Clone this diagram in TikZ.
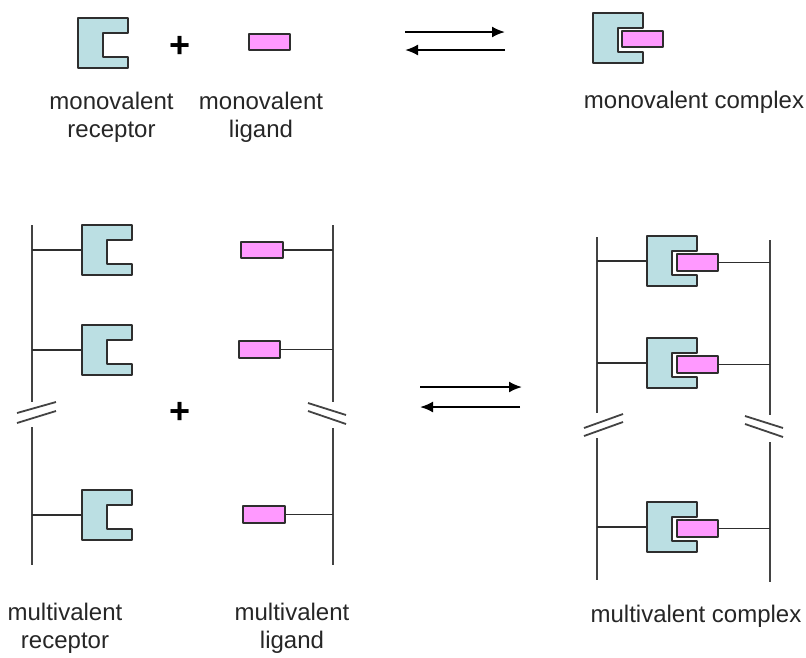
\documentclass[tikz,border=0pt]{standalone}
\usepackage{fontspec}
\setmainfont{Liberation Sans}
\usetikzlibrary{arrows.meta}

\definecolor{recfill}{HTML}{BBDFE3}
\definecolor{ligfill}{HTML}{FF99FF}
\definecolor{edge}{HTML}{2E2E2E}

\tikzset{
  receptor/.style={minimum width=50pt, minimum height=50pt, inner sep=0pt, outer sep=0pt, anchor=north west},
  cshape/.style={draw=edge, fill=recfill, line width=2pt, line join=round},
  ligand/.style={draw=edge, fill=ligfill, line width=1.6pt, line join=round,
                 minimum width=41pt, minimum height=16pt, inner sep=0pt, outer sep=0pt, anchor=north west},
  bound/.style={ligand, preaction={draw=white, line width=5pt}},
  tether/.style={draw=edge, line width=1.4pt},
  backbone/.style={draw=edge!90, line width=2pt},
  breakmark/.style={draw=edge!90, line width=1.8pt},
  react/.style={draw=black, line width=2pt, -{Latex[length=13pt,width=11pt]}},
  lbl/.style={font=\fontsize{24}{28}\selectfont, inner sep=0pt, anchor=base, text=black!85},
  plus/.style={font=\fontsize{36}{36}\selectfont\bfseries, inner sep=0pt}
}

% C-shaped receptor outline drawn over the frame of a named node
\newcommand\drawreceptor[1]{%
  \path[cshape] (#1.north west) -- (#1.north east) -- ++(0,15) -- ++(-25,0)
    -- ++(0,24) -- ++(25,0) -- (#1.south east) -- (#1.south west) -- cycle;}

\begin{document}
\begin{tikzpicture}[x=1pt, y=-1pt]
\useasboundingbox (0,0) rectangle (806,657);

% ---------- monovalent binding ----------
\node[receptor] (R0) at (78,18) {};
\drawreceptor{R0}
\node[plus] (p0) at (180,47) {+};
\node[ligand] (L0) at (249,34) {};

\coordinate (a0s) at (405,32);
\coordinate (a0e) at (505,32);
\coordinate (b0s) at (505,50);
\coordinate (b0e) at (405,50);
\draw[react] (a0s) -- (a0e);
\draw[react] (b0s) -- (b0e);

\node[receptor] (RC0) at (593,13) {};
\drawreceptor{RC0}
\node[bound] (LC0) at (622,31) {};

\node[lbl] (t1) at (111.5,109) {monovalent};
\node[lbl] (t2) at (111.5,137) {receptor};
\node[lbl] (t3) at (261,109) {monovalent};
\node[lbl] (t4) at (261,137) {ligand};
\node[lbl] (t5) at (694,108) {monovalent complex};

% ---------- multivalent receptor ----------
\coordinate (va1) at (32,225);
\coordinate (va2) at (32,402);
\coordinate (va3) at (32,427);
\coordinate (va4) at (32,565);
\draw[backbone] (va1) -- (va2);
\draw[backbone] (va3) -- (va4);
\coordinate (ma1) at (17,413); \coordinate (ma2) at (56,402);
\coordinate (ma3) at (17,423); \coordinate (ma4) at (56,411);
\draw[breakmark] (ma1) -- (ma2);
\draw[breakmark] (ma3) -- (ma4);

\node[receptor] (R1) at (82,225) {};
\node[receptor] (R2) at (82,325) {};
\node[receptor] (R3) at (82,490) {};
\draw[tether] (R1.west -| va1) -- (R1.west);
\draw[tether] (R2.west -| va1) -- (R2.west);
\draw[tether] (R3.west -| va1) -- (R3.west);
\drawreceptor{R1}
\drawreceptor{R2}
\drawreceptor{R3}

\node[plus] (p1) at (180,413) {+};

% ---------- multivalent ligand ----------
\coordinate (vb1) at (333,225);
\coordinate (vb2) at (333,402);
\coordinate (vb3) at (333,428);
\coordinate (vb4) at (333,565);
\draw[backbone] (vb1) -- (vb2);
\draw[backbone] (vb3) -- (vb4);
\coordinate (mb1) at (308,403); \coordinate (mb2) at (346,415);
\coordinate (mb3) at (308,411); \coordinate (mb4) at (346,424);
\draw[breakmark] (mb1) -- (mb2);
\draw[breakmark] (mb3) -- (mb4);

\node[ligand, minimum width=42pt] (L1) at (241,242) {};
\node[ligand, minimum height=17pt] (L2) at (239,341) {};
\node[ligand, minimum width=42pt, minimum height=17pt] (L3) at (243,506) {};
\draw[tether] (L1.east) -- (L1.east -| vb1);
\draw[tether] (L2.east) -- (L2.east -| vb1);
\draw[tether] (L3.east) -- (L3.east -| vb1);

% ---------- reaction arrows ----------
\coordinate (a1s) at (420,387);
\coordinate (a1e) at (522,387);
\coordinate (b1s) at (520,407);
\coordinate (b1e) at (420,407);
\draw[react] (a1s) -- (a1e);
\draw[react] (b1s) -- (b1e);

% ---------- multivalent complex ----------
\coordinate (vc1) at (597,237);
\coordinate (vc2) at (597,413);
\coordinate (vc3) at (597,438);
\coordinate (vc4) at (597,580);
\draw[backbone] (vc1) -- (vc2);
\draw[backbone] (vc3) -- (vc4);
\coordinate (mc1) at (584,428); \coordinate (mc2) at (623,414);
\coordinate (mc3) at (584,436); \coordinate (mc4) at (623,422);
\draw[breakmark] (mc1) -- (mc2);
\draw[breakmark] (mc3) -- (mc4);

\coordinate (vd1) at (770,240);
\coordinate (vd2) at (770,415);
\coordinate (vd3) at (770,442);
\coordinate (vd4) at (770,582);
\draw[backbone] (vd1) -- (vd2);
\draw[backbone] (vd3) -- (vd4);
\coordinate (md1) at (745,416); \coordinate (md2) at (783,428);
\coordinate (md3) at (745,424); \coordinate (md4) at (783,437);
\draw[breakmark] (md1) -- (md2);
\draw[breakmark] (md3) -- (md4);

\node[receptor] (RC1) at (647,236) {};
\node[receptor] (RC2) at (647,338) {};
\node[receptor] (RC3) at (647,502) {};
\draw[tether] (RC1.west -| vc1) -- (RC1.west);
\draw[tether] (RC2.west -| vc1) -- (RC2.west);
\draw[tether] (RC3.west -| vc1) -- (RC3.west);
\drawreceptor{RC1}
\drawreceptor{RC2}
\drawreceptor{RC3}

\node[bound, minimum height=17pt] (LC1) at (677,254) {};
\node[bound, minimum height=17pt] (LC2) at (677,356) {};
\node[bound, minimum height=17pt] (LC3) at (677,520) {};
\draw[tether] (LC1.east) -- (LC1.east -| vd1);
\draw[tether] (LC2.east) -- (LC2.east -| vd1);
\draw[tether] (LC3.east) -- (LC3.east -| vd1);

\node[lbl] (t6) at (65,620) {multivalent};
\node[lbl] (t7) at (65,648) {receptor};
\node[lbl] (t8) at (292,620) {multivalent};
\node[lbl] (t9) at (292,648) {ligand};
\node[lbl] (t10) at (696,622) {multivalent complex};
\end{tikzpicture}
\end{document}
